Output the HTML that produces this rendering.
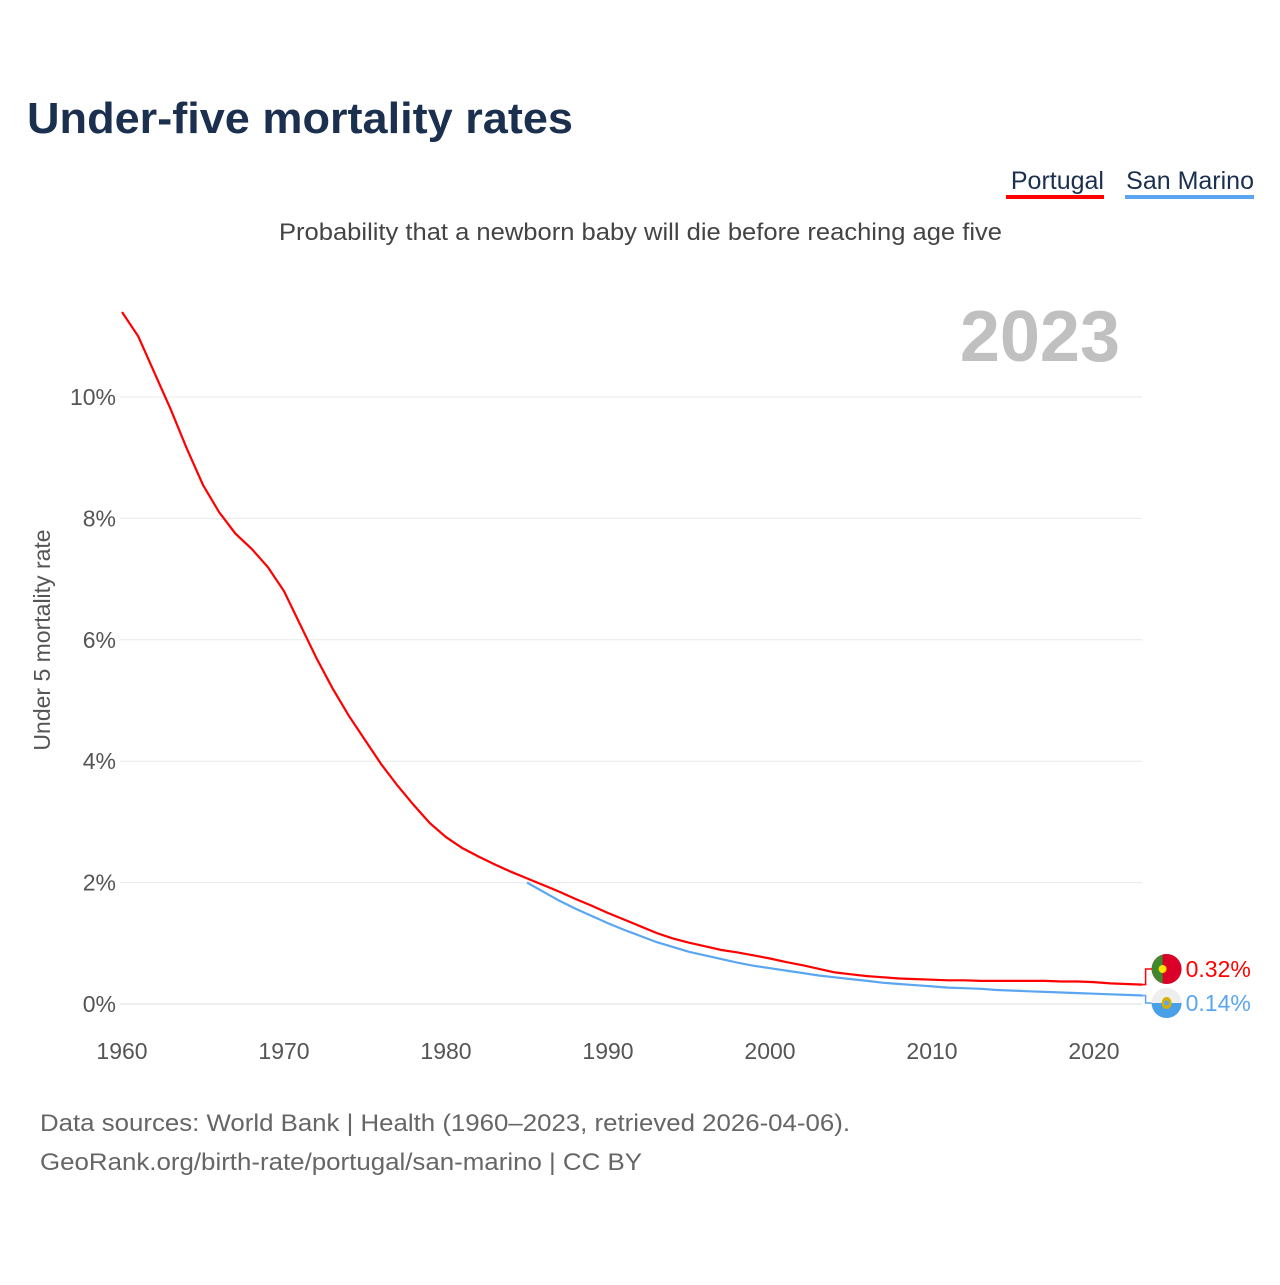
<!DOCTYPE html>
<html><head><meta charset="utf-8"><style>
body{margin:0;background:#fff;font-family:"Liberation Sans",sans-serif;}
svg text{font-family:"Liberation Sans",sans-serif;}
</style></head><body>
<svg id="chart" width="1280" height="1280" viewBox="0 0 1280 1280" xmlns="http://www.w3.org/2000/svg">
<rect width="1280" height="1280" fill="#fff"/>
<text x="27" y="133" font-size="44" font-weight="bold" fill="#1b2f4e" textLength="546" lengthAdjust="spacingAndGlyphs">Under-five mortality rates</text>
<g><text x="1104" y="189" font-size="25" fill="#1b2f4e" text-anchor="end">Portugal</text><rect x="1006" y="195" width="98" height="4" fill="#f00"/></g>
<g><text x="1254" y="189" font-size="25" fill="#1b2f4e" text-anchor="end">San Marino</text><rect x="1125" y="195" width="129" height="4" fill="#5aa6f0"/></g>
<text x="279" y="240" font-size="24" fill="#444" textLength="723" lengthAdjust="spacingAndGlyphs">Probability that a newborn baby will die before reaching age five</text>
<text x="1120" y="361" font-size="72" font-weight="bold" fill="#c0c0c0" text-anchor="end">2023</text>
<text transform="translate(50,640) rotate(-90)" font-size="23" fill="#555" text-anchor="middle">Under 5 mortality rate</text>
<g id="grid"></g><g id="series"></g><g id="labels"></g>
<text x="40" y="1131" font-size="24" fill="#666" textLength="810" lengthAdjust="spacingAndGlyphs">Data sources: World Bank | Health (1960–2023, retrieved 2026-04-06).</text>
<text x="40" y="1170" font-size="24" fill="#666" textLength="602" lengthAdjust="spacingAndGlyphs">GeoRank.org/birth-rate/portugal/san-marino | CC BY</text>
</svg>
<script>
const yTicks=[0,2,4,6,8,10];
const xTicks=[1960,1970,1980,1990,2000,2010,2020];
const ptYears=[];for(let y=1960;y<=2023;y++)ptYears.push(y);
const ptValues=[11.4,11.0,10.4,9.8,9.15,8.55,8.1,7.75,7.5,7.2,6.8,6.25,5.7,5.2,4.75,4.35,3.95,3.6,3.28,2.98,2.75,2.57,2.43,2.3,2.18,2.07,1.96,1.85,1.73,1.62,1.5,1.39,1.28,1.17,1.08,1.01,0.95,0.89,0.85,0.8,0.75,0.69,0.64,0.58,0.52,0.49,0.46,0.44,0.42,0.41,0.40,0.39,0.39,0.38,0.38,0.38,0.38,0.38,0.37,0.37,0.36,0.34,0.33,0.32];
const smYears=[];for(let y=1985;y<=2023;y++)smYears.push(y);
const smValues=[2.0,1.85,1.7,1.57,1.45,1.33,1.22,1.12,1.02,0.94,0.86,0.8,0.74,0.68,0.63,0.59,0.55,0.51,0.47,0.44,0.41,0.38,0.35,0.33,0.31,0.29,0.27,0.26,0.25,0.23,0.22,0.21,0.2,0.19,0.18,0.17,0.16,0.15,0.14];
const NS="http://www.w3.org/2000/svg";
const X=y=>122+(y-1960)*16.2;
const Y=v=>1004-v*60.7;
function mk(t,a,p){const e=document.createElementNS(NS,t);for(const k in a)e.setAttribute(k,a[k]);p.appendChild(e);return e;}
const grid=document.getElementById('grid');
yTicks.forEach(v=>{
 const l=mk('line',{x1:120,x2:1142,y1:Y(v),y2:Y(v),stroke:v===0?'#ddd':'#e8e8e8','stroke-width':1},grid);
 
 
 const t=mk('text',{x:116,y:Y(v)+8,'font-size':23,fill:'#555','text-anchor':'end'},grid);t.textContent=v+'%';
 
 
});
xTicks.forEach(y=>{
 const t=mk('text',{x:X(y),y:1059,'font-size':23,fill:'#555','text-anchor':'middle'},grid);t.textContent=y;
 
 
});
const ser=document.getElementById('series');
function line(ys,vs,c,name){
 const p=mk('path',{d:ys.map((y,i)=>(i?'L':'M')+X(y).toFixed(1)+','+Y(vs[i]).toFixed(1)).join(''),fill:'none',stroke:c,'stroke-width':2.2},ser);
 
 
}
line(ptYears,ptValues,'#f00','portugal-line');
line(smYears,smValues,'#5aa6f0','san-marino-line');
const lab=document.getElementById('labels');
const ex=X(2023);
function endLabel(v,ly,c,txt,name,flag){
 const p=mk('path',{d:`M${ex},${Y(v)} L${ex+3},${Y(v)} L${ex+3},${ly} L${ex+10},${ly}`,fill:'none',stroke:c,'stroke-width':1.5},lab);
 
 
 const g=mk('g',{},lab);
 
 
 flag(g,ex+24,ly);
 const t=mk('text',{x:ex+43,y:ly+8,'font-size':23,fill:c},lab);t.textContent=txt;
 
 
}
endLabel(ptValues[ptValues.length-1],969,'#f00',ptValues[ptValues.length-1].toFixed(2)+'%','portugal',(g,cx,cy)=>{
 mk('circle',{cx,cy,r:15,fill:'#da0028'},g);
 mk('path',{d:`M${cx-4},${cy-14.4} A15,15 0 0,0 ${cx-4},${cy+14.4} Z`,fill:'#3d8a2e'},g);
 mk('circle',{cx:cx-4,cy,r:4,fill:'#ffe000'},g);
});
endLabel(smValues[smValues.length-1],1003,'#5aa6f0',smValues[smValues.length-1].toFixed(2)+'%','san-marino',(g,cx,cy)=>{
 mk('circle',{cx,cy,r:15,fill:'#eee'},g);
 mk('path',{d:`M${cx-15},${cy} A15,15 0 0,0 ${cx+15},${cy} Z`,fill:'#4aa0e8'},g);
 mk('ellipse',{cx,cy,rx:5,ry:6,fill:'#d8b000'},g);
 mk('circle',{cx,cy,r:2.5,fill:'#5aa6f0'},g);
});
</script>
</body></html>
